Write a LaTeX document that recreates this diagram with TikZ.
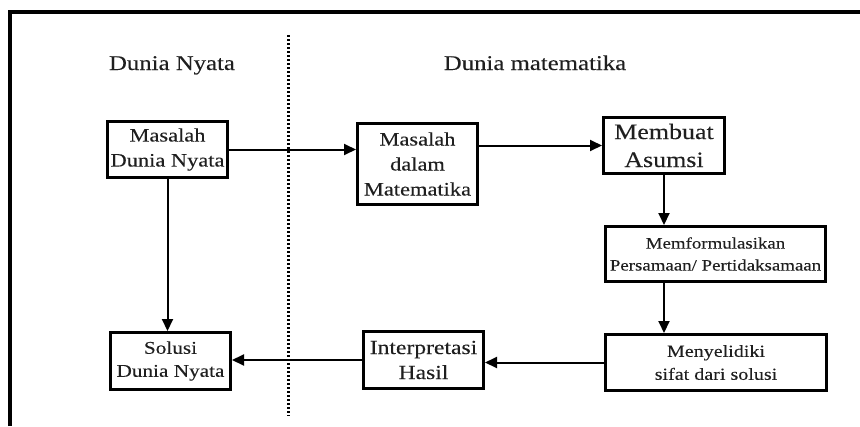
\documentclass[tikz,border=0pt]{standalone}
\usepackage{fontspec}
\setmainfont{Liberation Serif}[FakeStretch=1.18, FakeBold=0.15]
\usetikzlibrary{arrows.meta}
\tikzset{
  box/.style={draw=black, line width=3pt, align=center, inner sep=1pt, text=black!88},
  conn/.style={draw=black, line width=2pt, -{Triangle[length=12pt,width=11pt]}},
  header/.style={anchor=base, inner sep=0pt, text=black!88, font=\fontsize{21}{25}\selectfont},
}
\begin{document}
\begin{tikzpicture}[x=1pt,y=-1pt]
\useasboundingbox (0,0) rectangle (860,426);
% frame
\draw[line width=4pt, line join=miter] (10,426) -- (10,11.5) -- (860,11.5);
% divider
\coordinate (divtop) at (288,35);
\coordinate (divbot) at (288,416);
\draw[line width=3pt, dash pattern=on 2.2pt off 1.8pt] (divtop) -- (divbot);
% headers
\node[header] (h1) at (172,70) {Dunia Nyata};
\node[header] (h2) at (535,70) {Dunia matematika};
% boxes
\node[box, minimum width=120pt, minimum height=56pt, font=\fontsize{19}{25}\selectfont] (mdn) at (167.5,149.5) {Masalah\\Dunia Nyata};
\node[box, minimum width=120pt, minimum height=81pt, font=\fontsize{19}{25}\selectfont] (mdm) at (417.5,164) {Masalah\\dalam\\Matematika};
\node[box, minimum width=121pt, minimum height=56pt, font=\fontsize{22}{28}\selectfont] (ma) at (664,145.5) {Membuat\\Asumsi};
\node[box, minimum width=220pt, minimum height=55pt, font=\fontsize{16}{22}\selectfont] (mf) at (715.5,254) {Memformulasikan\\Persamaan/ Pertidaksamaan};
\node[box, minimum width=221pt, minimum height=56pt, font=\fontsize{17}{23}\selectfont] (ms) at (716,362.5) {Menyelidiki\\sifat dari solusi};
\node[box, minimum width=120pt, minimum height=57pt, font=\fontsize{20}{25}\selectfont] (ih) at (423.5,360) {Interpretasi\\Hasil};
\node[box, minimum width=120pt, minimum height=57pt, font=\fontsize{18}{23}\selectfont] (sdn) at (170.5,361) {Solusi\\Dunia Nyata};
% connectors
\draw[conn] (mdn.east) -- (mdn.east -| mdm.west);
\draw[conn] (ma.west -| mdm.east) -- (ma.west);
\draw[conn] (ma.south) -- (ma.south |- mf.north);
\draw[conn] (mf.south -| ma.south) -- (ms.north -| ma.south);
\draw[conn] (ms.west) -- (ms.west -| ih.east);
\draw[conn] (ih.west) -- (ih.west -| sdn.east);
\draw[conn] (mdn.south) -- (mdn.south |- sdn.north);
\end{tikzpicture}
\end{document}
